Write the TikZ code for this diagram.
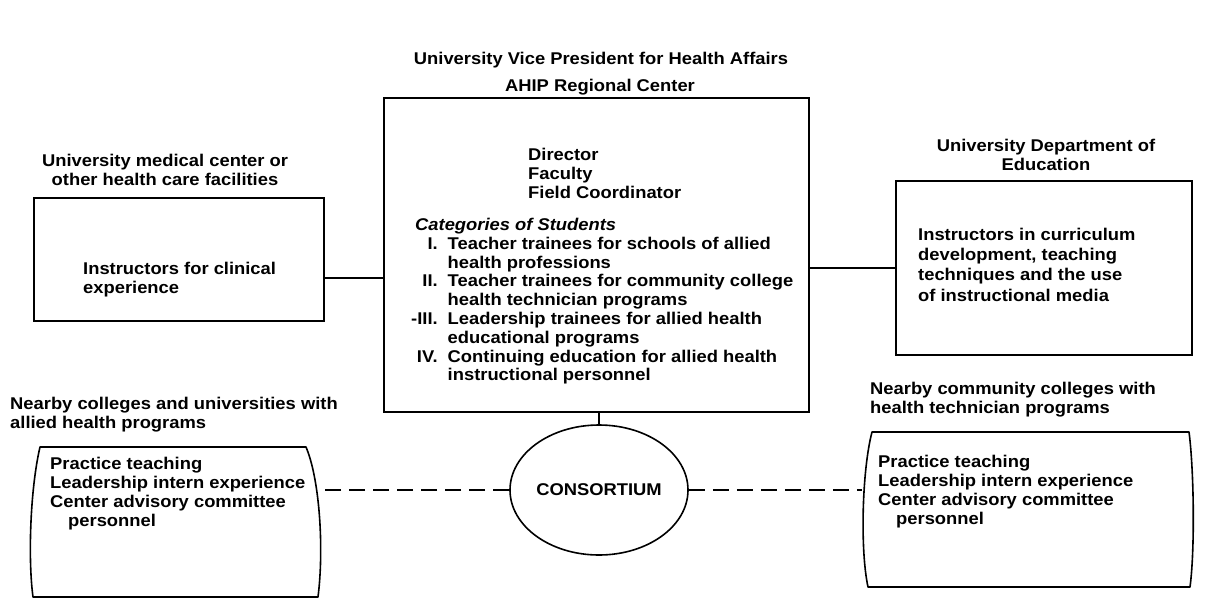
\documentclass[tikz,border=0pt]{standalone}
\usepackage{fontspec}
\setmainfont{Liberation Sans}[FakeStretch=1.08]
\usetikzlibrary{shapes.geometric}
\begin{document}
\begin{tikzpicture}[x=1pt,y=-1pt,
  txt/.style={font=\fontsize{17}{18.8}\selectfont\bfseries, inner sep=0pt},
  boxst/.style={draw, line width=1.6pt, inner sep=0pt},
  outline/.style={draw, line width=1.6pt, line join=round},
  link/.style={line width=1.6pt},
  dashlink/.style={line width=1.6pt, dash pattern=on 16pt off 8pt}]
\useasboundingbox (0,0) rectangle (1211,598);

% top titles
\node[txt] (title) at (601,60) {University Vice President for Health Affairs};
\node[txt] (ahip) at (600,87) {AHIP Regional Center};

% centre box
\node[boxst, anchor=north west, minimum width=425pt, minimum height=314pt] (center) at (383,97) {};
\node[txt, anchor=west, align=left] (staff) at (528,173.5) {Director\\Faculty\\Field Coordinator};
\node[txt, anchor=west] (cats) at (411,302) {%
  \begin{tabular}{@{}r@{\hspace{10pt}}l@{}}
  \multicolumn{2}{@{}l}{\hspace{4pt}\itshape Categories of Students}\\
  I. & Teacher trainees for schools of allied\\
     & health professions\\
  II. & Teacher trainees for community college\\
      & health technician programs\\
  -III. & Leadership trainees for allied health\\
        & educational programs\\
  IV. & Continuing education for allied health\\
      & instructional personnel
  \end{tabular}};

% left box
\node[txt, align=center] (clinlabel) at (165,170) {University medical center or\\other health care facilities};
\node[boxst, anchor=north west, minimum width=290pt, minimum height=123pt] (clin) at (33,197) {};
\node[txt, anchor=west, align=left] (clintext) at (83,279.5) {Instructors for clinical\\experience};
\draw[link] (clin.east) ++(0,18.5) coordinate (clinout) -- (clinout -| center.west);

% right box
\node[txt, align=center] (edulabel) at (1046,155) {University Department of\\Education};
\node[boxst, anchor=north west, minimum width=296pt, minimum height=174pt] (edu) at (895,180) {};
\node[txt, anchor=west, align=left, font=\fontsize{17}{20.3}\selectfont\bfseries] (edutext) at (918,264.5) {Instructors in curriculum\\development, teaching\\techniques and the use\\of instructional media};
\draw[link] (edu.west) -- (edu.west -| center.east);

% consortium
\node[ellipse, draw, line width=1.6pt, minimum width=178pt, minimum height=130pt, inner sep=0pt, font=\fontsize{17}{18.8}\selectfont\bfseries] (cons) at (599,490) {CONSORTIUM};
\draw[link] (center.south -| cons.north) -- (cons.north);

% bottom left
\node[txt, anchor=west, align=left] (bllabel) at (10,414.5) {Nearby colleges and universities with\\allied health programs};
\node[anchor=north west, minimum width=290pt, minimum height=150pt, inner sep=0pt] (blbox) at (32,447) {};
\draw[outline] (40,447) -- (306,447) .. controls (320,480) and (324,550) .. (318,597)
  -- (33,597) .. controls (28,560) and (30,490) .. (40,447) -- cycle;
\node[txt, anchor=west, align=left] (bltext) at (50,493.5) {Practice teaching\\Leadership intern experience\\Center advisory committee\\\hspace{18pt}personnel};
\draw[dashlink] (cons.west) -- (cons.west -| blbox.east);

% bottom right
\node[txt, anchor=west, align=left] (brlabel) at (870,400) {Nearby community colleges with\\health technician programs};
\node[anchor=north west, minimum width=330pt, minimum height=155pt, inner sep=0pt] (brbox) at (862,432) {};
\draw[outline] (872,432) -- (1189,432) .. controls (1194,470) and (1195,550) .. (1190,587)
  -- (868,587) .. controls (860,550) and (862,470) .. (872,432) -- cycle;
\node[txt, anchor=west, align=left] (brtext) at (878,491.5) {Practice teaching\\Leadership intern experience\\Center advisory committee\\\hspace{18pt}personnel};
\draw[dashlink] (cons.east) -- (cons.east -| brbox.west);
\end{tikzpicture}
\end{document}
